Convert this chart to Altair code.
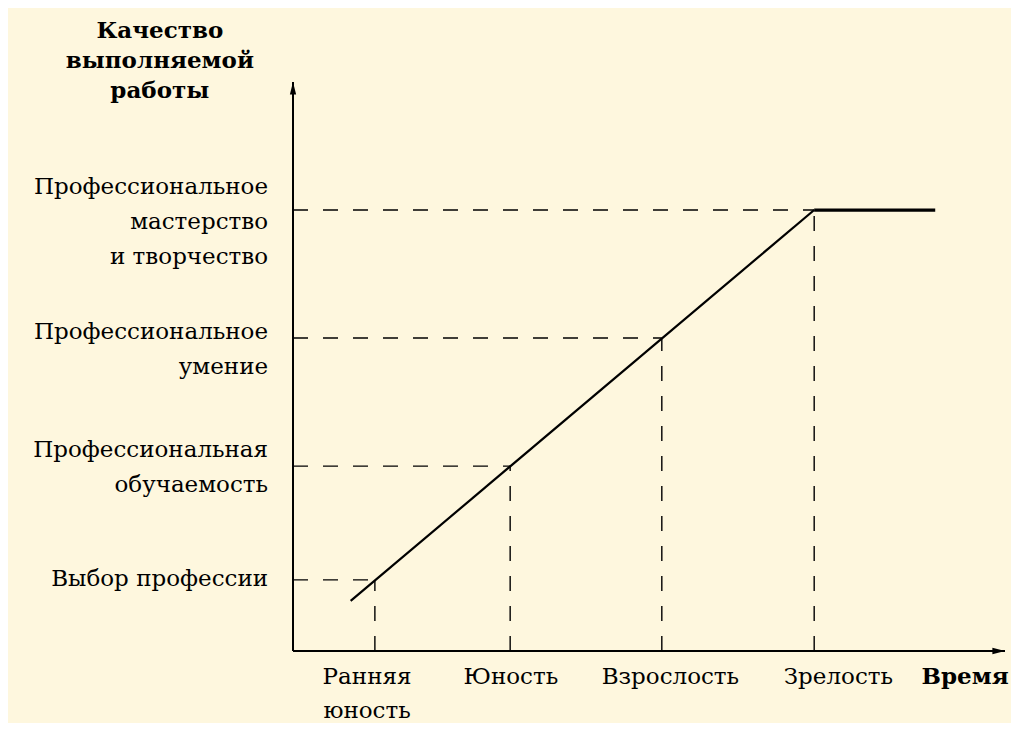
import altair as alt
import pandas as pd

# ---- data (arbitrary units: time 0..100, quality 0..100) ----
stage_names = ["Ранняя\nюность", "Юность", "Взрослость", "Зрелость"]
stage_x = [11.5, 30.5, 51.8, 73.2]
stage_label_x = [10.4, 30.6, 53.0, 76.6]

level_names = [
    "Выбор профессии",
    "Профессиональная\nобучаемость",
    "Профессиональное\nумение",
    "Профессиональное\nмастерство\nи творчество",
]
level_y = [12.5, 32.5, 55.0, 77.5]

curve_x = [8.1, 73.2]
curve_y = [8.8, 77.5]
plateau_x = [73.2, 90.2]
plateau_y = [77.5, 77.5]

x_title = "Время"
x_title_x = 94.4
y_title = "Качество\nвыполняемой\nработы"
y_title_pos = (-18.7, 109.0)
label_x = -3.5

FONT = "DejaVu Serif"
BG = "#FEF7DE"

xs = alt.Scale(domain=[0, 100], nice=False, zero=False)
ys = alt.Scale(domain=[0, 100], nice=False, zero=False)

def X(f="x"):
    return alt.X(f"{f}:Q", scale=xs, axis=None)

def Y(f="y"):
    return alt.Y(f"{f}:Q", scale=ys, axis=None)

# dashed guides
hdf = pd.DataFrame({"x": [0] * 4, "x2": stage_x, "y": level_y})
vdf = pd.DataFrame({"x": stage_x, "y": [0] * 4, "y2": level_y})
hdash = alt.Chart(hdf).mark_rule(color="black", strokeWidth=1.4, strokeDash=[15, 15]).encode(
    x=X(), x2="x2:Q", y=Y())
vdash = alt.Chart(vdf).mark_rule(color="black", strokeWidth=1.4, strokeDash=[15, 15]).encode(
    x=X(), y=Y(), y2="y2:Q")

# main curve
curve = alt.Chart(pd.DataFrame({"x": curve_x, "y": curve_y})).mark_line(
    color="black", strokeWidth=2.2).encode(x=X(), y=Y())
plateau = alt.Chart(pd.DataFrame({"x": plateau_x, "y": plateau_y})).mark_line(
    color="black", strokeWidth=3.2).encode(x=X(), y=Y())

# axes
yaxis = alt.Chart(pd.DataFrame({"x": [0], "y": [0], "y2": [100]})).mark_rule(
    color="black", strokeWidth=2).encode(x=X(), y=Y(), y2="y2:Q")
xaxis = alt.Chart(pd.DataFrame({"x": [0], "x2": [100], "y": [0]})).mark_rule(
    color="black", strokeWidth=2).encode(x=X(), x2="x2:Q", y=Y())
up_arrow = alt.Chart(pd.DataFrame({"x": [0], "y": [100]})).mark_point(
    shape="M0,0L0.45,1.8L-0.45,1.8Z", filled=True, color="black", opacity=1, size=196
).encode(x=X(), y=Y())
right_arrow = alt.Chart(pd.DataFrame({"x": [100], "y": [0]})).mark_point(
    shape="M0,0L-1.8,-0.45L-1.8,0.45Z", filled=True, color="black", opacity=1, size=196
).encode(x=X(), y=Y())

# y labels (first line placed relative to its level)
label_dy = [-1, -16, -6, -23]
ylabels = []
for name, yv, dy in zip(level_names, level_y, label_dy):
    ylabels.append(
        alt.Chart(pd.DataFrame({"x": [label_x], "y": [yv], "t": [name]})).mark_text(
            align="right", baseline="middle", font=FONT, fontSize=23, lineHeight=35,
            lineBreak="\n", color="black", dy=dy
        ).encode(x=X(), y=Y(), text="t:N")
    )

# x labels
xl = alt.Chart(pd.DataFrame({"x": stage_label_x, "y": [0] * 4, "t": stage_names})).mark_text(
    align="center", baseline="middle", font=FONT, fontSize=23, lineHeight=34,
    lineBreak="\n", color="black", dy=26
).encode(x=X(), y=Y(), text="t:N")

xt = alt.Chart(pd.DataFrame({"x": [x_title_x], "y": [0], "t": [x_title]})).mark_text(
    align="center", baseline="middle", font=FONT, fontSize=23, fontWeight="bold",
    color="black", dy=26
).encode(x=X(), y=Y(), text="t:N")

yt = alt.Chart(pd.DataFrame({"x": [y_title_pos[0]], "y": [y_title_pos[1]], "t": [y_title]})).mark_text(
    align="center", baseline="middle", font=FONT, fontSize=23, fontWeight="bold",
    lineHeight=30, lineBreak="\n", color="black"
).encode(x=X(), y=Y(), text="t:N")

chart = alt.layer(
    hdash, vdash, curve, plateau, yaxis, xaxis, up_arrow, right_arrow, *ylabels, xl, xt, yt
).properties(
    width=712, height=569,
    padding={"left": 285, "top": 74, "right": 6, "bottom": 72},
    autosize=alt.AutoSizeParams(type="none"),
    background=BG,
).configure_view(stroke=None)

chart.save("out.html", embed_options={"renderer": "svg", "actions": False})
